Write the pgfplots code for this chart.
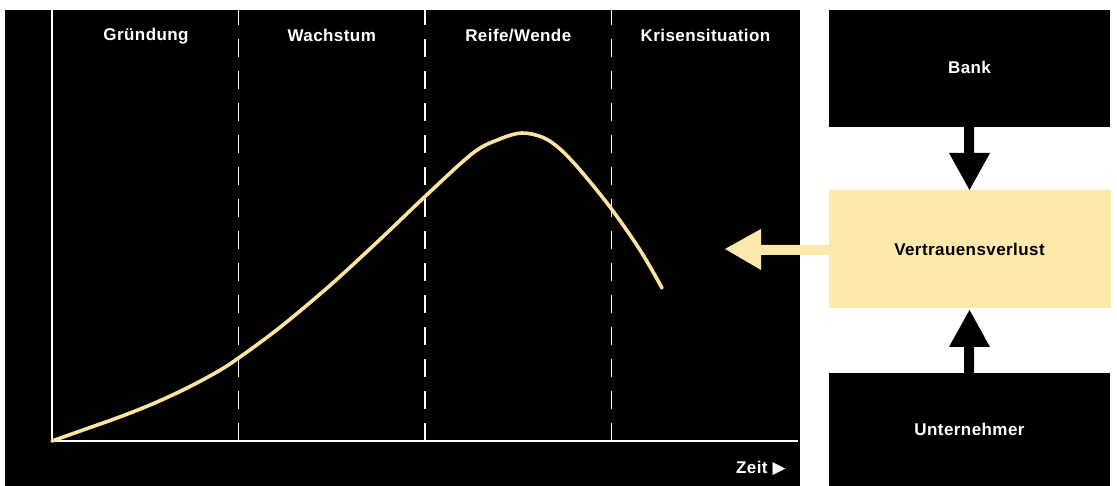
\documentclass[border=0pt]{standalone}
\usepackage{pgfplots}
\pgfplotsset{compat=1.18}
\usepackage{fontspec}
\setmainfont{Liberation Sans}[LetterSpace=2.5]
\newfontfamily\sym{DejaVu Sans}
\definecolor{lightyel}{HTML}{FDE9AB}
\definecolor{curveyel}{HTML}{FCE39E}
\newcommand{\lbl}{\fontsize{17}{20}\selectfont\bfseries}
\begin{document}
\begin{tikzpicture}[x=1pt,y=1pt]
\useasboundingbox (0,0) rectangle (1117,486);
\fill[black] (5,0) rectangle (800,476);
\begin{axis}[
  at={(52pt,45pt)}, anchor=south west,
  scale only axis, width=746pt, height=431pt,
  xmin=0, xmax=100, ymin=0, ymax=100,
  axis x line*=bottom, axis y line*=left,
  axis line style={white, line width=1.8pt, -},
  xtick=\empty, ytick=\empty,
  clip=false,
]
\foreach \xx in {25,50,75} {
  \edef\tmp{\noexpand\draw[white, line width=1.8pt, dash pattern=on 18pt off 14pt] (axis cs:\xx,0) -- (axis cs:\xx,100);}
  \tmp
}
\addplot[curveyel, line width=3.6pt, smooth, tension=0.55, line cap=round] coordinates {
(0,0) (4.16,2.55) (8.71,5.34) (13.14,8.35) (17.56,11.83) (22.12,16.01)
(25.20,19.49) (30.56,26.36) (37.27,36.10) (43.97,46.77) (50.0,56.71)
(56.43,66.82) (60.05,70.07) (63.00,71.46) (65.82,70.42) (68.10,67.75)
(70.78,62.88) (74.80,54.29) (78.82,44.32) (81.77,35.50)
};
\node[white, font=\lbl] at (axis cs:12.6,94) {Gründung};
\node[white, font=\lbl] at (axis cs:37.5,94) {Wachstum};
\node[white, font=\lbl] at (axis cs:62.5,94) {Reife/Wende};
\node[white, font=\lbl] at (axis cs:87.6,94) {Krisensituation};
\end{axis}
\node[white, anchor=east, font=\lbl, inner sep=0pt] at (786,18) {Zeit {\sym\fontsize{17}{17}\selectfont ▶}};
% right side boxes
\fill[black] (829,359) rectangle (1110,476);
\fill[lightyel] (829,178) rectangle (1111,296);
\fill[black] (829,0) rectangle (1110,113);
\node[white, font=\lbl] at (969.5,419) {Bank};
\node[black, font=\lbl] at (969.5,237) {Vertrauensverlust};
\node[white, font=\lbl] at (969.5,57) {Unternehmer};
% arrows
\fill[black] (964,359) -- (974,359) -- (974,333) -- (990,333) -- (969.5,296) -- (949,333) -- (964,333) -- cycle;
\fill[black] (964,113) -- (974,113) -- (974,139) -- (990,139) -- (969.5,176) -- (949,139) -- (964,139) -- cycle;
\fill[lightyel] (829,241) -- (761,241) -- (761,257) -- (725,237) -- (761,216) -- (761,231) -- (829,231) -- cycle;
\end{tikzpicture}
\end{document}
